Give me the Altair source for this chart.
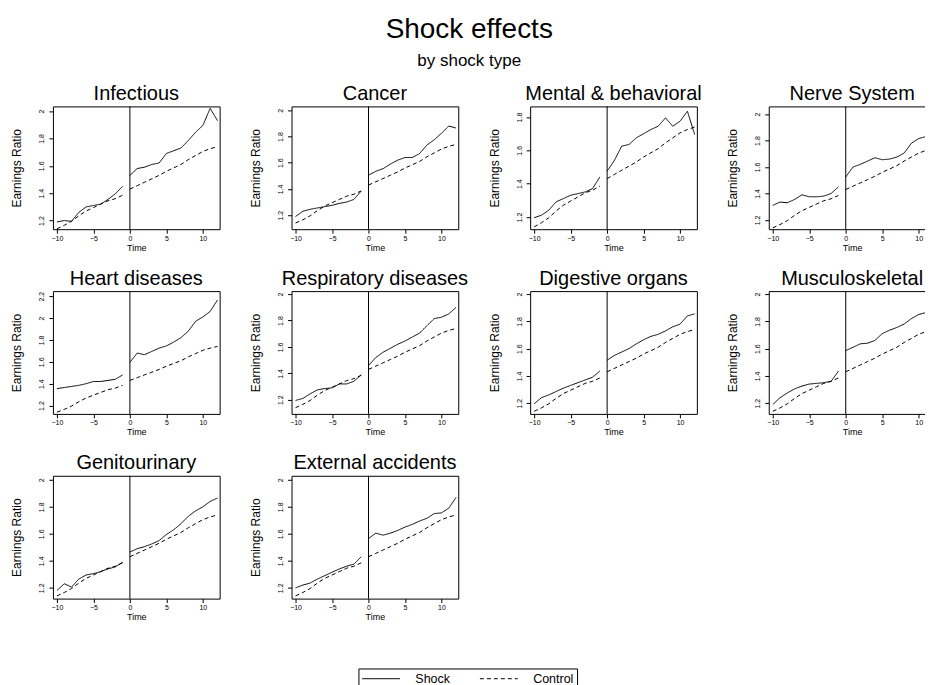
import altair as alt
import pandas as pd

# ---------------- data ----------------
PANELS = ["Infectious", "Cancer", "Mental & behavioral", "Nerve System",
          "Heart diseases", "Respiratory diseases", "Digestive organs", "Musculoskeletal",
          "Genitourinary", "External accidents"]

TIME = [-10, -9, -8, -7, -6, -5, -4, -3, -2, -1,
        0, 1, 2, 3, 4, 5, 6, 7, 8, 9, 10, 11, 12]
SHOCK_TIME = [0]
SERIES = ["Shock", "Control"]

CONTROL = [1.14, 1.165, 1.195, 1.235, 1.27, 1.295, 1.32, 1.345, 1.36, 1.385,
           1.43, 1.455, 1.48, 1.505, 1.53, 1.56, 1.585, 1.61, 1.645, 1.675, 1.705, 1.725, 1.74]

INFECTIOUS = [1.19, 1.20, 1.195, 1.26, 1.30, 1.31, 1.32, 1.355, 1.395, 1.45,
              1.53, 1.58, 1.59, 1.61, 1.62, 1.69, 1.71, 1.73, 1.785, 1.845, 1.895, 2.02, 1.93]
CANCER = [1.19, 1.23, 1.245, 1.255, 1.265, 1.275, 1.29, 1.30, 1.32, 1.385,
          1.505, 1.535, 1.555, 1.59, 1.62, 1.64, 1.64, 1.67, 1.735, 1.775, 1.825, 1.88, 1.865]
MENTAL = [1.195, 1.21, 1.24, 1.29, 1.31, 1.33, 1.34, 1.35, 1.37, 1.44,
          1.475, 1.54, 1.625, 1.635, 1.675, 1.70, 1.725, 1.745, 1.795, 1.745, 1.775, 1.835, 1.695]
NERVE = [1.31, 1.335, 1.33, 1.355, 1.39, 1.375, 1.375, 1.38, 1.40, 1.45,
         1.525, 1.60, 1.62, 1.645, 1.67, 1.655, 1.66, 1.675, 1.705, 1.78, 1.815, 1.83, 1.87]
HEART = [1.355, 1.365, 1.375, 1.385, 1.40, 1.42, 1.42, 1.43, 1.44, 1.48,
         1.595, 1.68, 1.665, 1.695, 1.725, 1.745, 1.78, 1.82, 1.88, 1.97, 2.01, 2.06, 2.165]
RESPIRATORY = [1.195, 1.21, 1.245, 1.275, 1.285, 1.29, 1.32, 1.32, 1.34, 1.39,
               1.46, 1.52, 1.56, 1.59, 1.62, 1.645, 1.675, 1.705, 1.76, 1.815, 1.825, 1.85, 1.90]
DIGESTIVE = [1.195, 1.24, 1.26, 1.285, 1.31, 1.33, 1.35, 1.37, 1.39, 1.435,
             1.515, 1.55, 1.575, 1.60, 1.635, 1.665, 1.69, 1.705, 1.73, 1.76, 1.78, 1.84, 1.855]
MUSCULO = [1.19, 1.24, 1.275, 1.305, 1.325, 1.34, 1.345, 1.35, 1.36, 1.435,
           1.585, 1.61, 1.635, 1.64, 1.66, 1.71, 1.735, 1.755, 1.78, 1.82, 1.85, 1.865, 1.88]
GENITO = [1.18, 1.23, 1.205, 1.265, 1.295, 1.305, 1.32, 1.34, 1.355, 1.39,
          1.465, 1.49, 1.505, 1.525, 1.55, 1.595, 1.63, 1.675, 1.73, 1.77, 1.80, 1.84, 1.865]
EXTERNAL = [1.20, 1.22, 1.235, 1.265, 1.29, 1.315, 1.34, 1.36, 1.375, 1.43,
            1.565, 1.605, 1.59, 1.605, 1.625, 1.65, 1.67, 1.695, 1.715, 1.75, 1.755, 1.79, 1.87]

SHOCK = dict(zip(PANELS, [INFECTIOUS, CANCER, MENTAL, NERVE, HEART, RESPIRATORY,
                          DIGESTIVE, MUSCULO, GENITO, EXTERNAL]))

X_TICKS = [-10, -5, 0, 5, 10]
TICKS_2 = [1.2, 1.4, 1.6, 1.8, 2.0]
Y_TICKS = {p: TICKS_2 for p in PANELS}
Y_TICKS["Mental & behavioral"] = [1.2, 1.4, 1.6, 1.8]
Y_TICKS["Heart diseases"] = [1.2, 1.4, 1.6, 1.8, 2.0, 2.2]

# ---------------- scale / style settings ----------------
X_DOMAIN = [-10.55, 12.3]
Y_DOMAINS = {
    "Infectious": [1.137, 2.034],
    "Cancer": [1.093, 2.03],
    "Mental & behavioral": [1.126, 1.864],
    "Nerve System": [1.13, 2.058],
    "Heart diseases": [1.124, 2.246],
    "Respiratory diseases": [1.093, 2.023],
    "Digestive organs": [1.121, 2.022],
    "Musculoskeletal": [1.121, 2.022],
    "Genitourinary": [1.12, 2.03],
    "External accidents": [1.12, 2.03],
}
FONT = "Liberation Sans"
PW, PH = 167, 123


def panel(name):
    rows = []
    for t, v in zip(TIME, SHOCK[name]):
        rows.append({"t": t, "v": v, "series": "Shock", "period": "pre" if t < 0 else "post"})
    for t, v in zip(TIME, CONTROL):
        rows.append({"t": t, "v": v, "series": "Control", "period": "pre" if t < 0 else "post"})
    df = pd.DataFrame(rows)
    lines = alt.Chart(df).mark_line(color="black", strokeWidth=1, clip=True).encode(
        x=alt.X("t:Q", title="Time",
                scale=alt.Scale(domain=X_DOMAIN, nice=False, zero=False),
                axis=alt.Axis(values=X_TICKS)),
        y=alt.Y("v:Q", title="Earnings Ratio",
                scale=alt.Scale(domain=Y_DOMAINS[name], nice=False, zero=False),
                axis=alt.Axis(values=Y_TICKS[name], format="~g")),
        strokeDash=alt.StrokeDash(
            "series:N",
            scale=alt.Scale(domain=SERIES, range=[[1, 0], [4, 3]]),
            legend=alt.Legend(title=None),
        ),
        detail="period:N",
    )
    vline = alt.Chart(pd.DataFrame({"t": SHOCK_TIME})).mark_rule(
        color="black", strokeWidth=1
    ).encode(x="t:Q")
    return alt.layer(vline, lines).properties(
        width=PW, height=PH,
        title=alt.TitleParams(name, fontSize=20, font=FONT, fontWeight="normal",
                              color="black", anchor="middle", offset=2),
    )


chart = alt.concat(
    *[panel(p) for p in PANELS], columns=4,
    spacing={"row": 62, "column": 72}, bounds="flush",
).properties(
    title=alt.TitleParams("Shock effects", subtitle="by shock type",
                          fontSize=28, subtitleFontSize=17, font=FONT, subtitleFont=FONT,
                          fontWeight="normal", color="black", subtitleColor="black",
                          anchor="middle", dx=-4, subtitlePadding=10, offset=12, dy=-2),
    # the right-most column runs past the page edge and is cut there
    padding={"left": 2, "top": 7, "right": -11.5, "bottom": 5},
).configure_view(
    stroke="black", strokeWidth=1
).configure_axis(
    labelFont=FONT, labelFontSize=7, labelColor="black", tickColor="black",
    tickSize=4, domain=False, grid=False, titleFont=FONT, titleFontWeight="normal",
    titleColor="black",
).configure_axisY(
    labelAngle=270, labelAlign="center", labelBaseline="bottom", labelPadding=4,
    titleFontSize=12, titlePadding=14,
).configure_axisX(
    titleFontSize=9, titlePadding=2, labelPadding=1,
).configure_legend(
    orient="none", legendX=306, legendY=563, direction="horizontal",
    strokeColor="black", padding=3, symbolType="M-1,0H5", symbolSize=160,
    symbolStrokeWidth=1, symbolStrokeColor="black", labelFont=FONT, labelFontSize=12.5,
    labelColor="black", labelOffset=40, columnPadding=27, fillColor="white",
)

chart.save("out.html", embed_options={"renderer": "svg", "actions": False})
